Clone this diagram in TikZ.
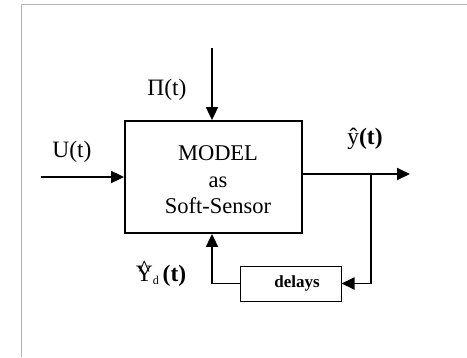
\documentclass[tikz,border=0pt]{standalone}
\usepackage{fontspec}
\setmainfont{Liberation Serif}
\usetikzlibrary{arrows.meta,calc}
\begin{document}
\begin{tikzpicture}[x=1pt,y=-1pt,
  blockbox/.style={draw, line width=1.8pt, minimum width=177pt, minimum height=112pt, inner sep=0pt},
  delaybox/.style={draw, line width=1pt, minimum width=101pt, minimum height=35pt, inner sep=0pt},
  sig/.style={line width=1.8pt, -{Triangle[length=13pt,width=12pt]}},
  lbl/.style={font=\fontsize{23.5}{27}\selectfont, inner sep=0pt},
  frameline/.style={draw=black!30, line width=1pt}]
\useasboundingbox (0,0) rectangle (467,357);
\coordinate (fa) at (21,357);
\coordinate (fb) at (21,4);
\coordinate (fc) at (467,4);
\draw[frameline] (fa) -- (fb) -- (fc);
\node[blockbox] (model) at (213.5,177) {};
\node[align=center, inner sep=0pt, font=\fontsize{22.5}{26.5}\selectfont] (mtext) at (218,180) {MODEL\\as\\Soft-Sensor};
\node[delaybox] (delays) at (290.5,283.5) {};
\node[inner sep=0pt, font=\fontsize{17}{20}\selectfont\bfseries] (dtext) at (297,283) {delays};
\coordinate (ptop) at (212,48);
\coordinate (uin) at (41,177);
\coordinate (yout) at (410,174);
\coordinate (branch) at (371,174);
\draw[sig] (ptop) -- (ptop |- model.north);
\draw[sig] (uin) -- (uin -| model.west);
\draw[sig] (yout -| model.east) -- (yout);
\draw[sig] (branch) |- (delays.east);
\draw[sig] (delays.west) -| (ptop |- model.south);
\node[lbl] (pi) at (167,90) {Π(t)};
\node[lbl] (u) at (72,152) {U(t)};
\node[lbl] (yhat) at (365,139) {ŷ\textbf{(t)}};
\node[lbl] (yd) at (161,276) {\ooalign{Υ\cr\hidewidth\raisebox{5pt}{\^{}}\hidewidth\cr}\raisebox{-3pt}{\fontsize{12}{14}\selectfont d}\,\textbf{(t)}};
\end{tikzpicture}
\end{document}
